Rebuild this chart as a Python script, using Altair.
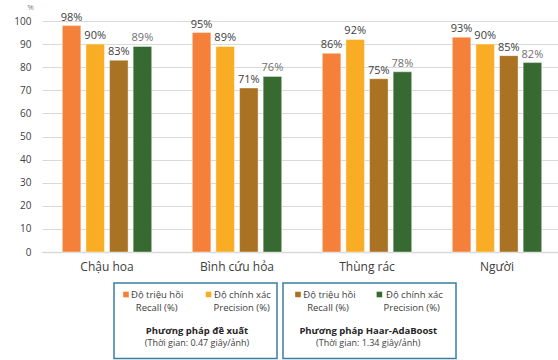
import altair as alt
import pandas as pd

categories = ["Chậu hoa", "Bình cứu hỏa", "Thùng rác", "Người"]
series = ["Đề xuất – Độ triệu hồi", "Đề xuất – Độ chính xác",
          "Haar-AdaBoost – Độ triệu hồi", "Haar-AdaBoost – Độ chính xác"]
proposed_recall = [98, 95, 86, 93]
proposed_precision = [90, 89, 92, 90]
haar_recall = [83, 71, 75, 85]
haar_precision = [89, 76, 78, 82]
colors = ["#F4803A", "#F9AD25", "#AA7223", "#376A30"]
y_ticks = list(range(0, 101, 10))

rows = []
for vals, s in zip([proposed_recall, proposed_precision, haar_recall, haar_precision], series):
    for c, v in zip(categories, vals):
        rows.append({"category": c, "series": s, "value": v})
df = pd.DataFrame(rows)

FONT = "Open Sans"
TXT = "#404040"

base = alt.Chart(df).encode(
    x=alt.X("category:N", sort=categories, title=None,
            scale=alt.Scale(range=[0, 520], paddingInner=0, paddingOuter=0),
            axis=alt.Axis(labelAngle=0, labelFontSize=12, labelColor=TXT, labelFont=FONT,
                          labelPadding=9, ticks=False, domainColor="#d9d9d9", domainWidth=1.5)),
    xOffset=alt.XOffset("series:N", sort=series,
                        scale=alt.Scale(paddingInner=0.216, paddingOuter=0.86)),
    y=alt.Y("value:Q", scale=alt.Scale(domain=[0, 100]), title="%",
            axis=alt.Axis(values=y_ticks, labelFontSize=10, labelColor=TXT, labelFont=FONT,
                          labelPadding=11, ticks=False, domain=False, gridColor="#d9d9d9",
                          titleAngle=0, titleX=-12, titleY=-10, titleFontSize=8,
                          titleFontWeight="normal", titleColor="#7f7f7f", titleFont=FONT,
                          titleAlign="center")),
)

bars = base.mark_bar(stroke="#ffffff", strokeWidth=0.8, strokeOpacity=0.5).encode(
    color=alt.Color("series:N", sort=series, scale=alt.Scale(domain=series, range=colors), legend=None)
)

labels_dark = base.transform_filter(
    alt.datum.series != series[3]
).transform_calculate(lbl="datum.value + '%'").mark_text(
    dy=-8, fontSize=11, font=FONT, color=TXT
).encode(text="lbl:N")

labels_light = base.transform_filter(
    alt.datum.series == series[3]
).transform_calculate(lbl="datum.value + '%'").mark_text(
    dy=-8, fontSize=11, font=FONT, color="#707070"
).encode(text="lbl:N")

one = pd.DataFrame({"k": [0]})
legend_layers = []

BOX = "#3A7DA0"
for x0, x1 in [(72, 235), (241, 414)]:
    legend_layers.append(alt.Chart(one).mark_rect(fill=None, stroke=BOX, strokeWidth=1.5).encode(
        x=alt.value(x0), x2=alt.value(x1), y=alt.value(262), y2=alt.value(337.5)))

def txt(t, x, y, align="center", bold=False, color=TXT, size=9.5):
    return alt.Chart(one).mark_text(
        text=t, align=align, baseline="middle", font=FONT, fontSize=size,
        fontWeight="bold" if bold else "normal", color=color
    ).encode(x=alt.value(x), y=alt.value(y))

def sq(x, y, c):
    return alt.Chart(one).mark_rect(color=c).encode(
        x=alt.value(x - 2.8), x2=alt.value(x + 2.8), y=alt.value(y - 2.8), y2=alt.value(y + 2.8))

legend_items = [
    (84, 89, 114.7, 166.5, 172, 199.7, 155, colors[0], colors[1],
     "Phương pháp đề xuất", "(Thời gian: 0.47 giây/ảnh)"),
    (256, 261.3, 286, 337.4, 344, 369.7, 326.3, colors[2], colors[3],
     "Phương pháp Haar-AdaBoost", "(Thời gian: 1.34 giây/ảnh)"),
]
for (sx1, tx1, rx, sx2, tx2, px, cx, c1, c2, title, sub) in legend_items:
    legend_layers += [
        sq(sx1, 273.5, c1),
        txt("Độ triệu hồi", tx1, 274, align="left"),
        txt("Recall (%)", rx, 287),
        sq(sx2, 273.5, c2),
        txt("Độ chính xác", tx2, 274, align="left"),
        txt("Precision (%)", px, 287),
        txt(title, cx, 309.5, bold=True, color="#262626", size=9.5),
        txt(sub, cx, 321.5, size=9),
    ]

chart = alt.layer(bars, labels_dark, labels_light, *legend_layers).properties(
    width=516, height=231,
    autosize=alt.AutoSizeParams(type="none"),
    padding={"left": 42, "top": 21, "right": 0, "bottom": 108},
).configure_view(stroke=None)

chart.save("out.html", embed_options={"renderer": "svg", "actions": False})
